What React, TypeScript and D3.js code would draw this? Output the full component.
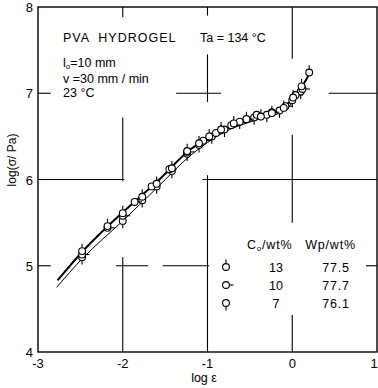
import React from 'react';
import * as d3 from 'd3';

// series: [log ε, log σ]
const series13 = [
  [-2.48, 5.17], [-2.18, 5.46], [-2.0, 5.61], [-1.77, 5.8], [-1.6, 5.95], [-1.42, 6.13],
  [-1.24, 6.33], [-1.1, 6.42], [-0.98, 6.5], [-0.84, 6.58], [-0.69, 6.65], [-0.54, 6.7],
  [-0.37, 6.73], [-0.24, 6.77], [-0.1, 6.83], [0.01, 6.95], [0.11, 7.08], [0.2, 7.24]
];
const series10 = [
  [-2.48, 5.13], [-2.18, 5.44], [-2.0, 5.58], [-1.86, 5.74], [-1.66, 5.92], [-1.45, 6.12],
  [-1.24, 6.32], [-1.05, 6.45], [-0.9, 6.54], [-0.72, 6.63], [-0.54, 6.7], [-0.42, 6.75],
  [-0.24, 6.78], [-0.08, 6.85], [0.04, 6.98], [0.12, 7.05]
];
const series7 = [
  [-2.48, 5.1], [-2.0, 5.52], [-1.77, 5.76], [-1.6, 5.92], [-1.42, 6.1], [-1.24, 6.3],
  [-1.1, 6.4], [-0.95, 6.5], [-0.8, 6.58], [-0.62, 6.67], [-0.45, 6.72], [-0.3, 6.75],
  [-0.15, 6.8], [0.0, 6.92], [0.1, 7.02]
];
const fitUpper = [
  [-2.77, 4.83], [-2.48, 5.16], [-2.0, 5.62], [-1.6, 5.97], [-1.2, 6.35], [-0.8, 6.58],
  [-0.4, 6.73], [-0.1, 6.84], [0.05, 6.98], [0.2, 7.22]
];
const fitLower = [
  [-2.78, 4.75], [-2.48, 5.08], [-2.0, 5.52], [-1.6, 5.9], [-1.2, 6.28], [-0.8, 6.55],
  [-0.4, 6.7], [-0.1, 6.8], [0.1, 7.0]
];

const xTicks = [-3, -2, -1, 0, 1];
const yTicks = [4, 5, 6, 7, 8];

// broken grid / cross marks of the original figure: [x1, y1, x2, y2]
const gridSegments = [
  [-3, 7, -2.85, 7], [-1.37, 7, -0.84, 7], [0.43, 7, 1, 7],
  [-3, 6, -1.98, 6], [-1.06, 6, 1, 6],
  [-3, 5, -2.85, 5], [-2.08, 5, -1.7, 5], [-1.53, 5, -0.98, 5], [0.87, 5, 1, 5],
  [-2, 8, -2, 7.88], [-2, 6.72, -2, 5.98], [-2, 5.1, -2, 4],
  [-1, 8, -1, 7.9], [-1, 7.45, -1, 6.9], [-1, 6.05, -1, 4],
  [0, 8, 0, 7.4], [0, 6.52, 0, 5.5], [0, 4.43, 0, 4]
];

const legendRows = [
  { c0: '13', wp: '77.5', tick: 'top' },
  { c0: '10', wp: '77.7', tick: 'right' },
  { c0: '7', wp: '76.1', tick: 'bottom' }
];

const W = 378;
const H = 388;
const font = "'Liberation Sans', Arial, sans-serif";

const x = d3.scaleLinear().domain([-3, 1]).range([38, 377]);
const y = d3.scaleLinear().domain([4, 8]).range([352, 7]);

const line = d3.line<number[]>()
  .x(d => x(d[0]))
  .y(d => y(d[1]))
  .curve(d3.curveMonotoneX);

function Marker({ cx, cy, tick }: { cx: number; cy: number; tick: string }) {
  const r = 3.4;
  let t = null;
  if (tick === 'top') t = <line x1={cx} y1={cy - r} x2={cx} y2={cy - r - 4} />;
  if (tick === 'bottom') t = <line x1={cx} y1={cy + r} x2={cx} y2={cy + r + 4} />;
  if (tick === 'right') t = <line x1={cx + r} y1={cy} x2={cx + r + 4} y2={cy} />;
  return (
    <g stroke="#000" strokeWidth={1.1}>
      {t}
      <circle cx={cx} cy={cy} r={r} fill="#fff" />
    </g>
  );
}

export default function App() {
  const groups = [
    { data: series7, tick: 'bottom' },
    { data: series10, tick: 'right' },
    { data: series13, tick: 'top' }
  ];
  return (
    <svg width={W} height={H} style={{ position: 'absolute', left: 0, top: 0, background: '#fff' }}>
      <rect x={x(-3)} y={y(8)} width={x(1) - x(-3)} height={y(4) - y(8)} fill="none" stroke="#000" strokeWidth={1.4} />
      {gridSegments.map((s, i) => (
        <line key={i} x1={x(s[0])} y1={y(s[1])} x2={x(s[2])} y2={y(s[3])} stroke="#000" strokeWidth={1.1} />
      ))}
      <path d={line(fitLower) || ''} fill="none" stroke="#000" strokeWidth={1} />
      <path d={line(fitUpper) || ''} fill="none" stroke="#000" strokeWidth={2} />
      {groups.map((g, gi) => (
        <g key={gi}>
          {g.data.map((d, i) => (
            <Marker key={i} cx={x(d[0])} cy={y(d[1])} tick={g.tick} />
          ))}
        </g>
      ))}
      <g fontFamily={font} fontSize={13} fill="#000">
        {xTicks.map(t => (
          <text key={t} x={x(t) + (t === 1 ? -3 : 0)} y={368} textAnchor="middle">{t}</text>
        ))}
        {yTicks.map(t => (
          <text key={t} x={33} y={y(t) + 5} textAnchor="end">{t}</text>
        ))}
        <text x={204} y={382} textAnchor="middle" fontSize={12.5}>log ε</text>
        <text transform={`translate(16,160) rotate(-90)`} textAnchor="middle" fontSize={12}>log(σ/ Pa)</text>
      </g>
      <g fontFamily={font} fontSize={12.5} fill="#000">
        <text x={63} y={42} letterSpacing={1} style={{ whiteSpace: 'pre' }}>PVA  HYDROGEL</text>
        <text x={200} y={42}>Ta = 134 °C</text>
        <text x={63} y={67}>l<tspan fontSize={8} dy={2}>o</tspan><tspan dy={-2}>=10 mm</tspan></text>
        <text x={63} y={83}>v =30 mm / min</text>
        <text x={63} y={97}>23 °C</text>
        <text x={247} y={249} letterSpacing={0.8} style={{ whiteSpace: 'pre' }}>C<tspan fontSize={8} dy={2}>o</tspan><tspan dy={-2}>/wt%   Wp/wt%</tspan></text>
        {legendRows.map((r, i) => (
          <g key={i}>
            <Marker cx={226} cy={267 + i * 18} tick={r.tick} />
            <text x={276} y={272 + i * 18} textAnchor="middle">{r.c0}</text>
            <text x={336} y={272 + i * 18} textAnchor="middle" letterSpacing={0.8}>{r.wp}</text>
          </g>
        ))}
      </g>
    </svg>
  );
}
